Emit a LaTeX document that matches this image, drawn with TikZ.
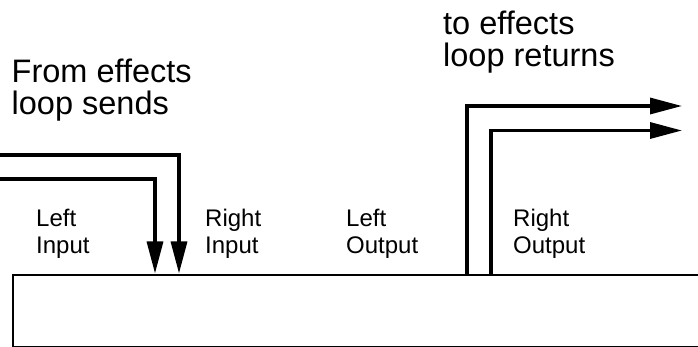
\documentclass[tikz,border=0pt]{standalone}
\usepackage{fontspec}
\setmainfont{Liberation Sans}
\usetikzlibrary{arrows.meta}
\tikzset{
  big/.style={font=\fontsize{32.5}{32}\selectfont, align=left, inner sep=0pt, anchor=base west},
  lbl/.style={font=\fontsize{24}{26}\selectfont, align=left, inner sep=0pt, anchor=base west},
  sig/.style={line width=3.3pt, -{Triangle[length=32pt,width=16pt]}},
  unitbox/.style={draw, line width=2.3pt, rectangle, inner sep=0pt, anchor=north west, minimum width=720pt, minimum height=72.5pt}
}
\begin{document}
\begin{tikzpicture}[x=1pt,y=-1pt]
\useasboundingbox (0,0) rectangle (698,347);
\node[unitbox] (unit) at (11.5,273.5) {};
\node[big] (sends) at (11.5,115) {From effects\\loop sends};
\node[big] (returns) at (443,67) {to effects\\loop returns};
\node[lbl] (li) at (36,253) {Left\\Input};
\node[lbl] (ri) at (205,253) {Right\\Input};
\node[lbl] (lo) at (346,253) {Left\\Output};
\node[lbl] (ro) at (513,253) {Right\\Output};
\coordinate (inA) at (-5,155);
\coordinate (inB) at (-5,179);
\coordinate (xA) at (179,0);
\coordinate (xB) at (155,0);
\coordinate (outA) at (682,106);
\coordinate (outB) at (682,130.5);
\coordinate (xoA) at (467,0);
\coordinate (xoB) at (491,0);
\draw[sig] (inA) -| (xA |- unit.north);
\draw[sig] (inB) -| (xB |- unit.north);
\draw[sig] (xoA |- unit.north) |- (outA);
\draw[sig] (xoB |- unit.north) |- (outB);
\end{tikzpicture}
\end{document}
